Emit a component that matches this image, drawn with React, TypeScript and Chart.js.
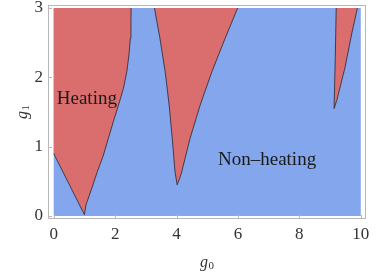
import React, { useEffect, useRef } from "react";
import { Chart, registerables } from "chart.js";
Chart.register(...registerables);

// Axis ticks and domain
const xTicks = [0, 2, 4, 6, 8, 10];
const yTicks = [0, 1, 2, 3];
const xDomain = [0, 10];
const yDomain = [0, 3];

// Tongue 1 (heating) boundaries
const t1LeftX = [0, 1];
const t1LeftY = [0.9, 0.02];
const t1RightX = [1, 1.05, 1.24, 1.42, 1.62, 1.78, 1.94, 2.11, 2.27, 2.38, 2.45, 2.495, 2.515, 2.52];
const t1RightY = [0.02, 0.16, 0.4, 0.64, 0.88, 1.12, 1.36, 1.6, 1.84, 2.08, 2.32, 2.56, 2.8, 3];

// Tongue 2
const t2LeftX = [3.28, 3.46, 3.63, 3.76, 3.86, 3.95, 4.02];
const t2LeftY = [3, 2.56, 2.08, 1.6, 1.12, 0.64, 0.45];
const t2RightX = [4.02, 4.1, 4.17, 4.44, 4.77, 5.15, 5.58, 5.99];
const t2RightY = [0.45, 0.54, 0.64, 1.12, 1.6, 2.08, 2.56, 3];

// Tongue 3
const t3LeftX = [9.2, 9.17, 9.13];
const t3LeftY = [3, 2.3, 1.55];
const t3RightX = [9.13, 9.22, 9.49, 9.71, 9.89];
const t3RightY = [1.55, 1.67, 2.15, 2.64, 3];

// Region labels
const labelTexts = ["Heating", "Non\u2013heating"];
const labelX = [0.1, 5.35];
const labelY = [1.62, 0.73];

// Axis titles (symbol, subscript)
const xTitle = ["g", "0"];
const yTitle = ["g", "1"];

const BLUE = "rgb(131,166,236)";
const RED = "rgb(218,110,110)";
const EDGE = "rgba(45,45,60,0.85)";

const pts = (xs: number[], ys: number[]) => xs.map((x, i) => ({ x, y: ys[i] }));

function drawSubTitle(ctx: CanvasRenderingContext2D, parts: string[], cx: number, baseY: number) {
  ctx.font = 'italic 16px "Liberation Serif"';
  const w1 = ctx.measureText(parts[0]).width;
  ctx.font = '11px "Liberation Serif"';
  const w2 = ctx.measureText(parts[1]).width;
  const start = cx - (w1 + w2 + 0.5) / 2;
  ctx.textAlign = "left";
  ctx.textBaseline = "alphabetic";
  ctx.font = 'italic 16px "Liberation Serif"';
  ctx.fillText(parts[0], start, baseY);
  ctx.font = '11px "Liberation Serif"';
  ctx.fillText(parts[1], start + w1 + 0.5, baseY + 2);
}

export default function App() {
  const ref = useRef<HTMLCanvasElement | null>(null);
  useEffect(() => {
    document.body.style.margin = "0";
    const canvas = ref.current!;
    const bg = [
      { x: xDomain[0], y: yDomain[0] },
      { x: xDomain[1], y: yDomain[0] },
      { x: xDomain[1], y: yDomain[1] },
      { x: xDomain[0], y: yDomain[1] },
    ];
    const t1Line = [...pts(t1LeftX, t1LeftY), ...pts(t1RightX, t1RightY).slice(1)];
    const t2Line = [...pts(t2LeftX, t2LeftY), ...pts(t2RightX, t2RightY).slice(1)];
    const t3Line = [...pts(t3LeftX, t3LeftY), ...pts(t3RightX, t3RightY).slice(1)];
    const t1Poly = [{ x: xDomain[0], y: yDomain[1] }, ...t1Line];
    const t2Poly = [...t2Line];
    const t3Poly = [...t3Line];

    const fillDs = (data: any[], color: string, order: number) => ({
      data,
      showLine: true,
      fill: "shape",
      backgroundColor: color,
      borderWidth: 0,
      borderColor: "transparent",
      pointRadius: 0,
      tension: 0,
      order,
    });
    const lineDs = (data: any[]) => ({
      data,
      showLine: true,
      fill: false,
      borderColor: EDGE,
      borderWidth: 1,
      pointRadius: 0,
      tension: 0,
      order: 1,
    });

    const overlay = {
      id: "overlay",
      afterDraw(chart: any) {
        const { ctx, chartArea: a, scales } = chart;
        const x = scales.x;
        const y = scales.y;
        ctx.save();
        ctx.strokeStyle = "#b8b8b8";
        ctx.lineWidth = 1;
        ctx.strokeRect(a.left + 0.5, a.top + 0.5, a.right - a.left - 1, a.bottom - a.top - 1);
        ctx.beginPath();
        xTicks.forEach((v) => {
          const px = Math.round(x.getPixelForValue(v)) + 0.5;
          ctx.moveTo(px, a.bottom);
          ctx.lineTo(px, a.bottom - 4);
        });
        yTicks.forEach((v) => {
          const py = Math.round(y.getPixelForValue(v)) + 0.5;
          ctx.moveTo(a.left, py);
          ctx.lineTo(a.left + 4, py);
        });
        ctx.stroke();
        ctx.fillStyle = "#1a1a1a";
        ctx.font = '19px "Liberation Serif"';
        ctx.textAlign = "left";
        ctx.textBaseline = "alphabetic";
        labelTexts.forEach((t, i) => {
          ctx.fillText(t, x.getPixelForValue(labelX[i]), y.getPixelForValue(labelY[i]));
        });
        // axis titles
        ctx.fillStyle = "#333";
        drawSubTitle(ctx, xTitle, (a.left + a.right) / 2, 267);
        ctx.save();
        ctx.translate(27, (a.top + a.bottom) / 2);
        ctx.rotate(-Math.PI / 2);
        drawSubTitle(ctx, yTitle, 0, 0);
        ctx.restore();
        ctx.restore();
      },
    };

    const chart = new Chart(canvas, {
      type: "scatter",
      data: {
        datasets: [
          fillDs(bg, BLUE, 3),
          fillDs(t1Poly, RED, 2),
          fillDs(t2Poly, RED, 2),
          fillDs(t3Poly, RED, 2),
          lineDs(t1Line),
          lineDs(t2Line),
          lineDs(t3Line),
        ] as any,
      },
      options: {
        animation: false,
        responsive: false,
        events: [],
        layout: { padding: { top: 5, right: 16, left: 0, bottom: 0 }, autoPadding: false },
        plugins: { legend: { display: false }, tooltip: { enabled: false } },
        scales: {
          x: {
            type: "linear",
            min: -0.186,
            max: 10.17,
            afterBuildTicks: (s: any) => {
              s.ticks = xTicks.map((v) => ({ value: v }));
            },
            afterFit: (s: any) => {
              s.height = 54;
              s.paddingLeft = 0;
              s.paddingRight = 0;
            },
            grid: { display: false, drawTicks: false },
            border: { display: false },
            ticks: {
              padding: 5,
              maxRotation: 0,
              autoSkip: false,
              color: "#333",
              font: { family: "Liberation Serif", size: 17 },
              callback: (v: any) => String(v),
            },
          },
          y: {
            type: "linear",
            min: -0.043,
            max: 3.043,
            afterBuildTicks: (s: any) => {
              s.ticks = yTicks.map((v) => ({ value: v }));
            },
            afterFit: (s: any) => {
              s.width = 48;
              s.paddingTop = 0;
              s.paddingBottom = 0;
            },
            grid: { display: false, drawTicks: false },
            border: { display: false },
            ticks: {
              padding: 5,
              autoSkip: false,
              color: "#333",
              font: { family: "Liberation Serif", size: 17 },
              callback: (v: any) => String(v),
            },
          },
        },
      },
      plugins: [overlay],
    } as any);
    return () => chart.destroy();
  }, []);
  return <canvas ref={ref} width={382} height={273} style={{ display: "block" }} />;
}
